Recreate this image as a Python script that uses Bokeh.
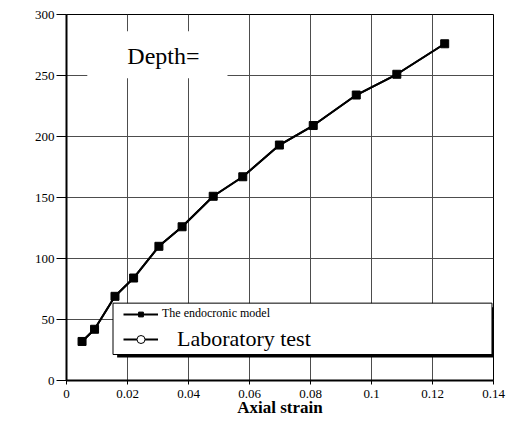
from bokeh.plotting import figure
from bokeh.models import (ColumnDataSource, Legend, LegendItem, FixedTicker,
                          BoxAnnotation, Label, Range1d)
from bokeh.embed import file_html
from bokeh.resources import INLINE

# ---- data ----
model_strain = [0.0051, 0.0092, 0.0159, 0.0220, 0.0303, 0.0379, 0.0481,
                0.0578, 0.0698, 0.0809, 0.0950, 0.1083, 0.1240]
model_stress = [32, 42, 69, 84, 110, 126, 151, 167, 193, 209, 234, 251, 276]
# laboratory points are hidden under the model markers in the reference
lab_strain = [0.0051, 0.0092, 0.0159, 0.0220, 0.0303, 0.0379, 0.0481,
              0.0578, 0.0698, 0.0809, 0.0950, 0.1083, 0.1240]
lab_stress = [32, 42, 69, 84, 110, 126, 151, 167, 193, 209, 234, 251, 276]

x_ticks = [0, 0.02, 0.04, 0.06, 0.08, 0.1, 0.12, 0.14]
x_tick_labels = ["0", "0.02", "0.04", "0.06", "0.08", "0.1", "0.12", "0.14"]
y_ticks = [0, 50, 100, 150, 200, 250, 300]
y_tick_labels = ["0", "50", "100", "150", "200", "250", "300"]

series_names = ["The endocronic model", "Laboratory test"]
x_title = "Axial strain"
annotation_text = "Depth="

SERIF = "Liberation Serif"

p = figure(width=506, height=421, output_backend="svg", toolbar_location=None,
           x_range=Range1d(0, 0.14), y_range=Range1d(0, 300),
           min_border_left=66, min_border_right=13, min_border_top=14,
           min_border_bottom=41)
p.background_fill_color = "white"
p.border_fill_color = "white"
p.outline_line_color = "black"
p.outline_line_width = 1

# axes
p.xaxis.ticker = FixedTicker(ticks=x_ticks)
p.xaxis.major_label_overrides = {t: l for t, l in zip(x_ticks, x_tick_labels)}
p.yaxis.ticker = FixedTicker(ticks=y_ticks)
p.yaxis.major_label_overrides = {t: l for t, l in zip(y_ticks, y_tick_labels)}
for ax in (p.xaxis, p.yaxis):
    ax.axis_line_color = "black"
    ax.axis_line_width = 2
    ax.major_tick_line_color = "black"
    ax.major_tick_line_width = 1
    ax.minor_tick_line_color = None
    ax.major_tick_in = 0
    ax.major_label_text_font = SERIF
    ax.major_label_text_font_size = "13px"
    ax.major_label_text_color = "black"
p.xaxis.major_tick_out = 4
p.xaxis.major_label_standoff = 5
p.yaxis.major_tick_out = 10
p.yaxis.major_label_standoff = 2

p.xaxis.axis_label = x_title
p.xaxis.axis_label_text_font = SERIF
p.xaxis.axis_label_text_font_size = "17px"
p.xaxis.axis_label_text_font_style = "bold"
p.xaxis.axis_label_text_color = "black"
p.xaxis.axis_label_standoff = -3

p.xgrid.ticker = FixedTicker(ticks=x_ticks)
p.ygrid.ticker = FixedTicker(ticks=y_ticks)
p.grid.grid_line_color = "#4d4d4d"
p.grid.grid_line_width = 1

# data (laboratory series drawn first, underneath)
lab_src = ColumnDataSource(dict(x=lab_strain, y=lab_stress))
src = ColumnDataSource(dict(x=model_strain, y=model_stress))
l2 = p.line("x", "y", source=lab_src, line_color="black", line_width=2)
s2 = p.scatter("x", "y", source=lab_src, marker="circle", size=6,
               fill_color="white", line_color="black", line_width=1)
l1 = p.line("x", "y", source=src, line_color="black", line_width=2)
s1 = p.scatter("x", "y", source=src, marker="square", size=8,
               fill_color="black", line_color="black")

# legend frame with shadow
shadow = BoxAnnotation(left=0.0166, right=0.1411, bottom=18.9, top=60.1,
                       fill_color="black", fill_alpha=1, line_color=None)
box = BoxAnnotation(left=0.01525, right=0.1395, bottom=21.3, top=63.4,
                    fill_color="white", fill_alpha=1, line_color="black",
                    line_width=1, line_alpha=1)
p.add_layout(shadow)
p.add_layout(box)

legA = Legend(items=[LegendItem(label=series_names[0], renderers=[l1, s1])],
              location=(57, 59), padding=0, margin=0, spacing=0,
              glyph_width=35, glyph_height=12, label_height=12,
              label_standoff=4, label_text_font=SERIF,
              label_text_font_size="12px", label_text_color="black",
              background_fill_alpha=0, border_line_alpha=0)
legB = Legend(items=[LegendItem(label=series_names[1], renderers=[l2, s2])],
              location=(57, 28), padding=0, margin=0, spacing=0,
              glyph_width=35, glyph_height=20, label_height=20,
              label_standoff=19, label_text_font=SERIF,
              label_text_font_size="22px", label_text_color="black",
              background_fill_alpha=0, border_line_alpha=0)
p.add_layout(legA)
p.add_layout(legB)

# "Depth=" annotation with white background (anchor = centre of the box)
depth = Label(x=0.0298, y=267, text=annotation_text, text_align="center",
              text_baseline="middle", text_font=SERIF, text_font_size="24px",
              text_color="black", background_fill_color="white",
              background_fill_alpha=1,
              padding=dict(left=40, right=28, top=12, bottom=9))
p.add_layout(depth)

open("out.html", "w").write(file_html(p, INLINE))
